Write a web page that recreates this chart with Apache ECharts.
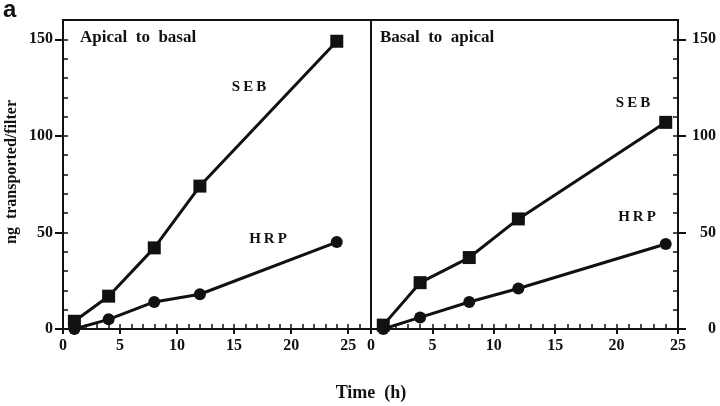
<!DOCTYPE html>
<html>
<head>
<meta charset="utf-8">
<script src="https://cdn.jsdelivr.net/npm/echarts@6/dist/echarts.min.js"></script>
<style>html,body{margin:0;padding:0;background:#fff;}#c{width:720px;height:406px;}</style>
</head>
<body>
<div id="c"></div>
<script>
// Data
const timeH = [1, 4, 8, 12, 24];
const sebApicalToBasal = [4, 17, 42, 74, 149];
const hrpApicalToBasal = [0, 5, 14, 18, 45];
const sebBasalToApical = [2, 24, 37, 57, 107];
const hrpBasalToApical = [0, 6, 14, 21, 44];
const xTickLabels = [0, 5, 10, 15, 20, 25];
const yTickLabels = [0, 50, 100, 150];
const panelTitles = ['Apical  to  basal', 'Basal  to  apical'];

const INK = '#111';
const SERIF = '"Liberation Serif", "Times New Roman", serif';
const pairs = (ys) => timeH.map((t, i) => [t, ys[i]]);

const chart = echarts.init(document.getElementById('c'), null, {renderer: 'canvas'});

const G = [
  {left: 63, top: 20, width: 308, height: 309},
  {left: 371, top: 20, width: 307, height: 309}
];
// grids 0,1: visible panels; grids 2,3: same rectangles, carrying the outward major ticks
const grids = [
  Object.assign({show: true, borderColor: INK, borderWidth: 2, backgroundColor: 'transparent'}, G[0]),
  Object.assign({show: true, borderColor: INK, borderWidth: 2, backgroundColor: 'transparent'}, G[1]),
  Object.assign({show: false}, G[0]),
  Object.assign({show: false}, G[1])
];
const XMAX = [27, 25];
const YMAX = 160;

const labelStyle = {color: INK, fontFamily: SERIF, fontWeight: 'bold', fontSize: 16};

function primaryX(gi) {
  return {
    type: 'value', gridIndex: gi, min: 0, max: XMAX[gi], interval: 1, position: 'bottom',
    axisLine: {show: true, onZero: false, lineStyle: {color: INK, width: 2}},
    axisTick: {show: true, inside: true, length: 5, lineStyle: {color: INK, width: 1.5}},
    axisLabel: Object.assign({show: true, customValues: xTickLabels, margin: 9}, labelStyle),
    splitLine: {show: false}
  };
}
function majorTickX(gi) {
  return {
    type: 'value', gridIndex: gi + 2, min: 0, max: XMAX[gi], position: 'bottom',
    axisLine: {show: false, onZero: false},
    axisTick: {show: true, inside: false, length: 5, lineStyle: {color: INK, width: 2}, customValues: xTickLabels},
    axisLabel: {show: false},
    splitLine: {show: false}
  };
}
function primaryY(gi, pos) {
  return {
    type: 'value', gridIndex: gi, min: 0, max: YMAX, interval: 10, position: pos,
    axisLine: {show: true, onZero: false, lineStyle: {color: INK, width: 2}},
    axisTick: {show: true, inside: true, length: 5, lineStyle: {color: INK, width: 1.5}},
    axisLabel: Object.assign({show: true, customValues: yTickLabels, margin: pos === 'left' ? 10 : 38, align: 'right'}, labelStyle),
    splitLine: {show: false}
  };
}
function majorTickY(gi, pos) {
  return {
    type: 'value', gridIndex: gi + 2, min: 0, max: YMAX, position: pos,
    axisLine: {show: false, onZero: false},
    axisTick: {show: true, inside: false, length: 8, lineStyle: {color: INK, width: 2}, customValues: yTickLabels},
    axisLabel: {show: false},
    splitLine: {show: false}
  };
}

function lineSeries(xi, yi, ys, symbol, size) {
  return {
    type: 'line', xAxisIndex: xi, yAxisIndex: yi, data: pairs(ys),
    symbol: symbol, symbolSize: size, showAllSymbol: true,
    lineStyle: {color: INK, width: 3},
    itemStyle: {color: INK, borderWidth: 0},
    emphasis: {disabled: true}, animation: false, z: 5
  };
}

function txt(text, x, y, size, opts) {
  return Object.assign({
    type: 'text', x: x, y: y, silent: true,
    style: {text: text, fill: INK, font: 'bold ' + size + 'px ' + SERIF, align: 'center', verticalAlign: 'middle'}
  }, opts || {});
}

const option = {
  backgroundColor: '#fff',
  animation: false,
  grid: grids,
  xAxis: [primaryX(0), primaryX(1), majorTickX(0), majorTickX(1)],
  yAxis: [primaryY(0, 'left'), primaryY(1, 'right'), majorTickY(0, 'left'), majorTickY(1, 'right')],
  series: [
    lineSeries(0, 0, sebApicalToBasal, 'rect', 13),
    lineSeries(0, 0, hrpApicalToBasal, 'circle', 12),
    lineSeries(1, 1, sebBasalToApical, 'rect', 13),
    lineSeries(1, 1, hrpBasalToApical, 'circle', 12)
  ],
  graphic: [
    {type: 'text', x: 3, y: 10, silent: true,
      style: {text: 'a', fill: INK, font: 'bold 24px "Liberation Sans", Arial, sans-serif', align: 'left', verticalAlign: 'middle'}},
    {type: 'text', x: 80, y: 38, silent: true,
      style: {text: panelTitles[0], fill: INK, font: 'bold 17px ' + SERIF, align: 'left', verticalAlign: 'middle'}},
    {type: 'text', x: 380, y: 38, silent: true,
      style: {text: panelTitles[1], fill: INK, font: 'bold 17px ' + SERIF, align: 'left', verticalAlign: 'middle'}},
    txt('S\u2009E\u2009B', 249, 87, 15),
    txt('H\u2009R\u2009P', 268, 239, 15),
    txt('S\u2009E\u2009B', 633, 103, 15),
    txt('H\u2009R\u2009P', 637, 217, 15),
    txt('Time  (h)', 371, 393, 18),
    txt('ng  transported/filter', 12, 172, 16, {rotation: Math.PI / 2})
  ]
};
chart.setOption(option);
</script>
</body>
</html>
